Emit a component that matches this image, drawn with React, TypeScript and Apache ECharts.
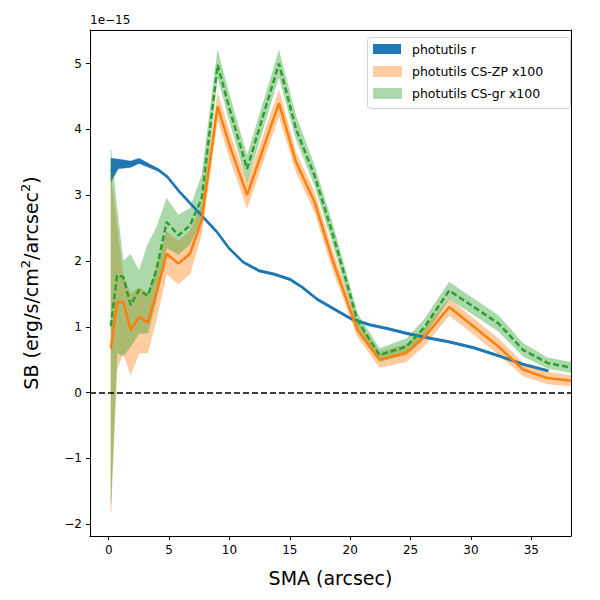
import React, { useEffect, useRef } from "react";
import * as echarts from "echarts";

const blueX = [0.18, 0.79, 1.81, 2.52, 3.33, 4.14, 4.85, 5.87, 6.89, 7.9, 8.92, 9.93, 11.15, 12.47, 13.69, 15.01, 16.03, 17.25, 18.57, 20.09, 21.61, 23.14, 24.66, 26.18, 28.2, 30.25, 32.28, 34.31, 36.4];
const blueY = [3.37, 3.48, 3.47, 3.52, 3.45, 3.38, 3.28, 3.05, 2.85, 2.65, 2.45, 2.2, 1.98, 1.85, 1.8, 1.72, 1.6, 1.42, 1.28, 1.12, 1.03, 0.97, 0.9, 0.84, 0.77, 0.68, 0.56, 0.43, 0.33];
const blueLo = [3.2, 3.4, 3.42, 3.48, 3.42, 3.36, 3.26, 3.03, 2.83, 2.63, 2.43, 2.18, 1.96, 1.83, 1.78, 1.7, 1.58, 1.4, 1.26, 1.1, 1.01, 0.95, 0.88, 0.82, 0.75, 0.66, 0.54, 0.41, 0.31];
const blueHi = [3.56, 3.55, 3.52, 3.56, 3.48, 3.4, 3.3, 3.07, 2.87, 2.67, 2.47, 2.22, 2.0, 1.87, 1.82, 1.74, 1.62, 1.44, 1.3, 1.14, 1.05, 0.99, 0.92, 0.86, 0.79, 0.7, 0.58, 0.45, 0.35];

const csX = [0.18, 0.69, 1.2, 1.81, 2.52, 3.23, 3.94, 4.8, 5.77, 6.73, 7.7, 9.02, 10.03, 11.46, 12.78, 14.1, 15.52, 17.04, 18.57, 20.6, 22.43, 24.66, 26.18, 28.2, 30.25, 32.28, 34.31, 36.34, 38.3];
const zpY = [0.67, 1.37, 1.38, 0.95, 1.15, 1.06, 1.5, 2.11, 1.96, 2.11, 2.62, 4.35, 3.75, 3.0, 3.7, 4.4, 3.5, 2.9, 2.0, 0.95, 0.5, 0.6, 0.85, 1.3, 1.0, 0.7, 0.35, 0.22, 0.18];
const zpLo = [-1.82, 0.35, 0.6, 0.27, 0.6, 0.6, 1.1, 1.8, 1.65, 1.8, 2.4, 4.15, 3.55, 2.8, 3.5, 4.2, 3.35, 2.75, 1.85, 0.85, 0.38, 0.47, 0.72, 1.17, 0.88, 0.58, 0.25, 0.13, 0.1];
const zpHi = [3.3, 2.5, 1.8, 1.5, 1.6, 1.5, 1.9, 2.45, 2.3, 2.45, 2.85, 4.55, 3.95, 3.2, 3.9, 4.6, 3.65, 3.05, 2.15, 1.08, 0.62, 0.73, 0.98, 1.43, 1.12, 0.82, 0.45, 0.31, 0.26];
const grY = [1.01, 1.78, 1.76, 1.33, 1.56, 1.47, 1.86, 2.59, 2.39, 2.54, 2.95, 4.98, 4.3, 3.4, 4.2, 5.0, 4.0, 3.3, 2.4, 1.1, 0.57, 0.7, 1.0, 1.55, 1.3, 1.05, 0.65, 0.45, 0.38];
const grLo = [-1.7, 0.6, 0.55, 0.7, 0.9, 0.9, 1.4, 2.2, 2.1, 2.25, 2.65, 4.8, 4.1, 3.2, 4.0, 4.8, 3.85, 3.15, 2.25, 1.0, 0.47, 0.58, 0.88, 1.42, 1.18, 0.93, 0.55, 0.37, 0.3];
const grHi = [3.7, 2.8, 2.0, 2.1, 1.85, 2.25, 2.5, 2.95, 2.7, 2.8, 3.3, 5.2, 4.5, 3.6, 4.4, 5.2, 4.2, 3.45, 2.55, 1.2, 0.67, 0.82, 1.12, 1.68, 1.42, 1.17, 0.75, 0.53, 0.46];

const xTicks = [0, 5, 10, 15, 20, 25, 30, 35];
const yTicks = [-2, -1, 0, 1, 2, 3, 4, 5];

function band(xs: number[], lo: number[], hi: number[], color: string, opacity: number) {
  return {
    type: "custom",
    silent: true,
    z: 1,
    data: [[xs[0], lo[0]]],
    renderItem: (_p: any, api: any) => {
      const pts: number[][] = [];
      for (let i = 0; i < xs.length; i++) pts.push(api.coord([xs[i], hi[i]]));
      for (let i = xs.length - 1; i >= 0; i--) pts.push(api.coord([xs[i], lo[i]]));
      return {
        type: "polygon",
        shape: { points: pts },
        style: { fill: color, opacity, stroke: color, lineWidth: 1, strokeOpacity: 0.3 },
      };
    },
  };
}

const pairs = (xs: number[], ys: number[]) => xs.map((x, i) => [x, ys[i]]);

export default function App() {
  const ref = useRef<HTMLDivElement>(null);
  useEffect(() => {
    const chart = echarts.init(ref.current!, null, { renderer: "svg" });
    const font = "DejaVu Sans";
    const black = { color: "#000" };
    const XMIN = -1.55, XMAX = 38.29, YMIN = -2.18, YMAX = 5.51;
    chart.setOption({
      animation: false,
      textStyle: { fontFamily: font },
      grid: { left: 82, right: 21, top: 22, bottom: 52 },
      xAxis: [
        {
          type: "value", min: XMIN, max: XMAX,
          splitLine: { show: false },
          axisLine: { onZero: false, lineStyle: black },
          axisTick: { customValues: xTicks, length: 4, lineStyle: black },
          axisLabel: { customValues: xTicks, color: "#000", fontSize: 12 },
          name: "SMA (arcsec)", nameLocation: "middle", nameGap: 32,
          nameTextStyle: { fontSize: 19, color: "#000" },
        },
        {
          type: "value", position: "top", min: XMIN, max: XMAX,
          splitLine: { show: false }, axisTick: { show: false }, axisLabel: { show: false },
          axisLine: { onZero: false, lineStyle: black },
        },
      ],
      yAxis: [
        {
          type: "value", min: YMIN, max: YMAX,
          splitLine: { show: false },
          axisLine: { show: true, onZero: false, lineStyle: black },
          axisTick: { customValues: yTicks, length: 4, lineStyle: black },
          axisLabel: { customValues: yTicks, color: "#000", fontSize: 12, formatter: (v: number) => String(v).replace("-", "\u2212") },
          name: "{a|SB (erg/s/cm}{s|2}{a|/arcsec}{s|2}{a|)}", nameLocation: "middle", nameGap: 48,
          nameTextStyle: {
            rich: {
              a: { fontSize: 19, color: "#000", fontFamily: font },
              s: { fontSize: 13, color: "#000", fontFamily: font, verticalAlign: "top", padding: [0, 0, 10, 0] },
            },
          },
        },
        {
          type: "value", position: "right", min: YMIN, max: YMAX,
          splitLine: { show: false }, axisTick: { show: false }, axisLabel: { show: false },
          axisLine: { show: true, onZero: false, lineStyle: black },
        },
      ],
      graphic: [
        { type: "text", left: 82, top: 6, style: { text: "1e\u221215", fontSize: 12, fill: "#000", fontFamily: font } },
        { type: "rect", left: 359, top: 29, shape: { width: 203, height: 71, r: 3 }, style: { fill: "#fff", stroke: "#ccc", lineWidth: 1, opacity: 0.9 }, z: 100 },
        { type: "rect", left: 365, top: 36, shape: { width: 28, height: 10 }, style: { fill: "#1f77b4" }, z: 101 },
        { type: "rect", left: 365, top: 58, shape: { width: 28, height: 10 }, style: { fill: "#ff7f0e", opacity: 0.4, stroke: "#ff7f0e", strokeOpacity: 0.6 }, z: 101 },
        { type: "rect", left: 365, top: 80, shape: { width: 28, height: 10 }, style: { fill: "#2ca02c", opacity: 0.4, stroke: "#2ca02c", strokeOpacity: 0.6 }, z: 101 },
        { type: "text", left: 404, top: 35, style: { text: "photutils r", fontSize: 12.5, fill: "#000", fontFamily: font }, z: 101 },
        { type: "text", left: 404, top: 57, style: { text: "photutils CS-ZP x100", fontSize: 12.5, fill: "#000", fontFamily: font }, z: 101 },
        { type: "text", left: 404, top: 79, style: { text: "photutils CS-gr x100", fontSize: 12.5, fill: "#000", fontFamily: font }, z: 101 },
      ],
      series: [
        band(blueX, blueLo, blueHi, "#1f77b4", 1),
        band(csX, zpLo, zpHi, "#ff7f0e", 0.4),
        band(csX, grLo, grHi, "#2ca02c", 0.4),
        {
          type: "line", data: pairs(blueX, blueY), showSymbol: false, z: 3,
          lineStyle: { color: "#1f77b4", width: 2.5 },
          markLine: {
            silent: true, symbol: "none", label: { show: false },
            lineStyle: { color: "#000", type: [6, 3], width: 1.5 },
            data: [{ yAxis: 0 }],
          },
        },
        { type: "line", data: pairs(csX, zpY), showSymbol: false, z: 3, lineStyle: { color: "#ff7f0e", width: 2.5 } },
        { type: "line", data: pairs(csX, grY), showSymbol: false, z: 4, lineStyle: { color: "#2ca02c", width: 2.5, type: [6, 3] } },
      ],
    });
    return () => chart.dispose();
  }, []);
  return <div ref={ref} style={{ width: 584, height: 584 }} />;
}
